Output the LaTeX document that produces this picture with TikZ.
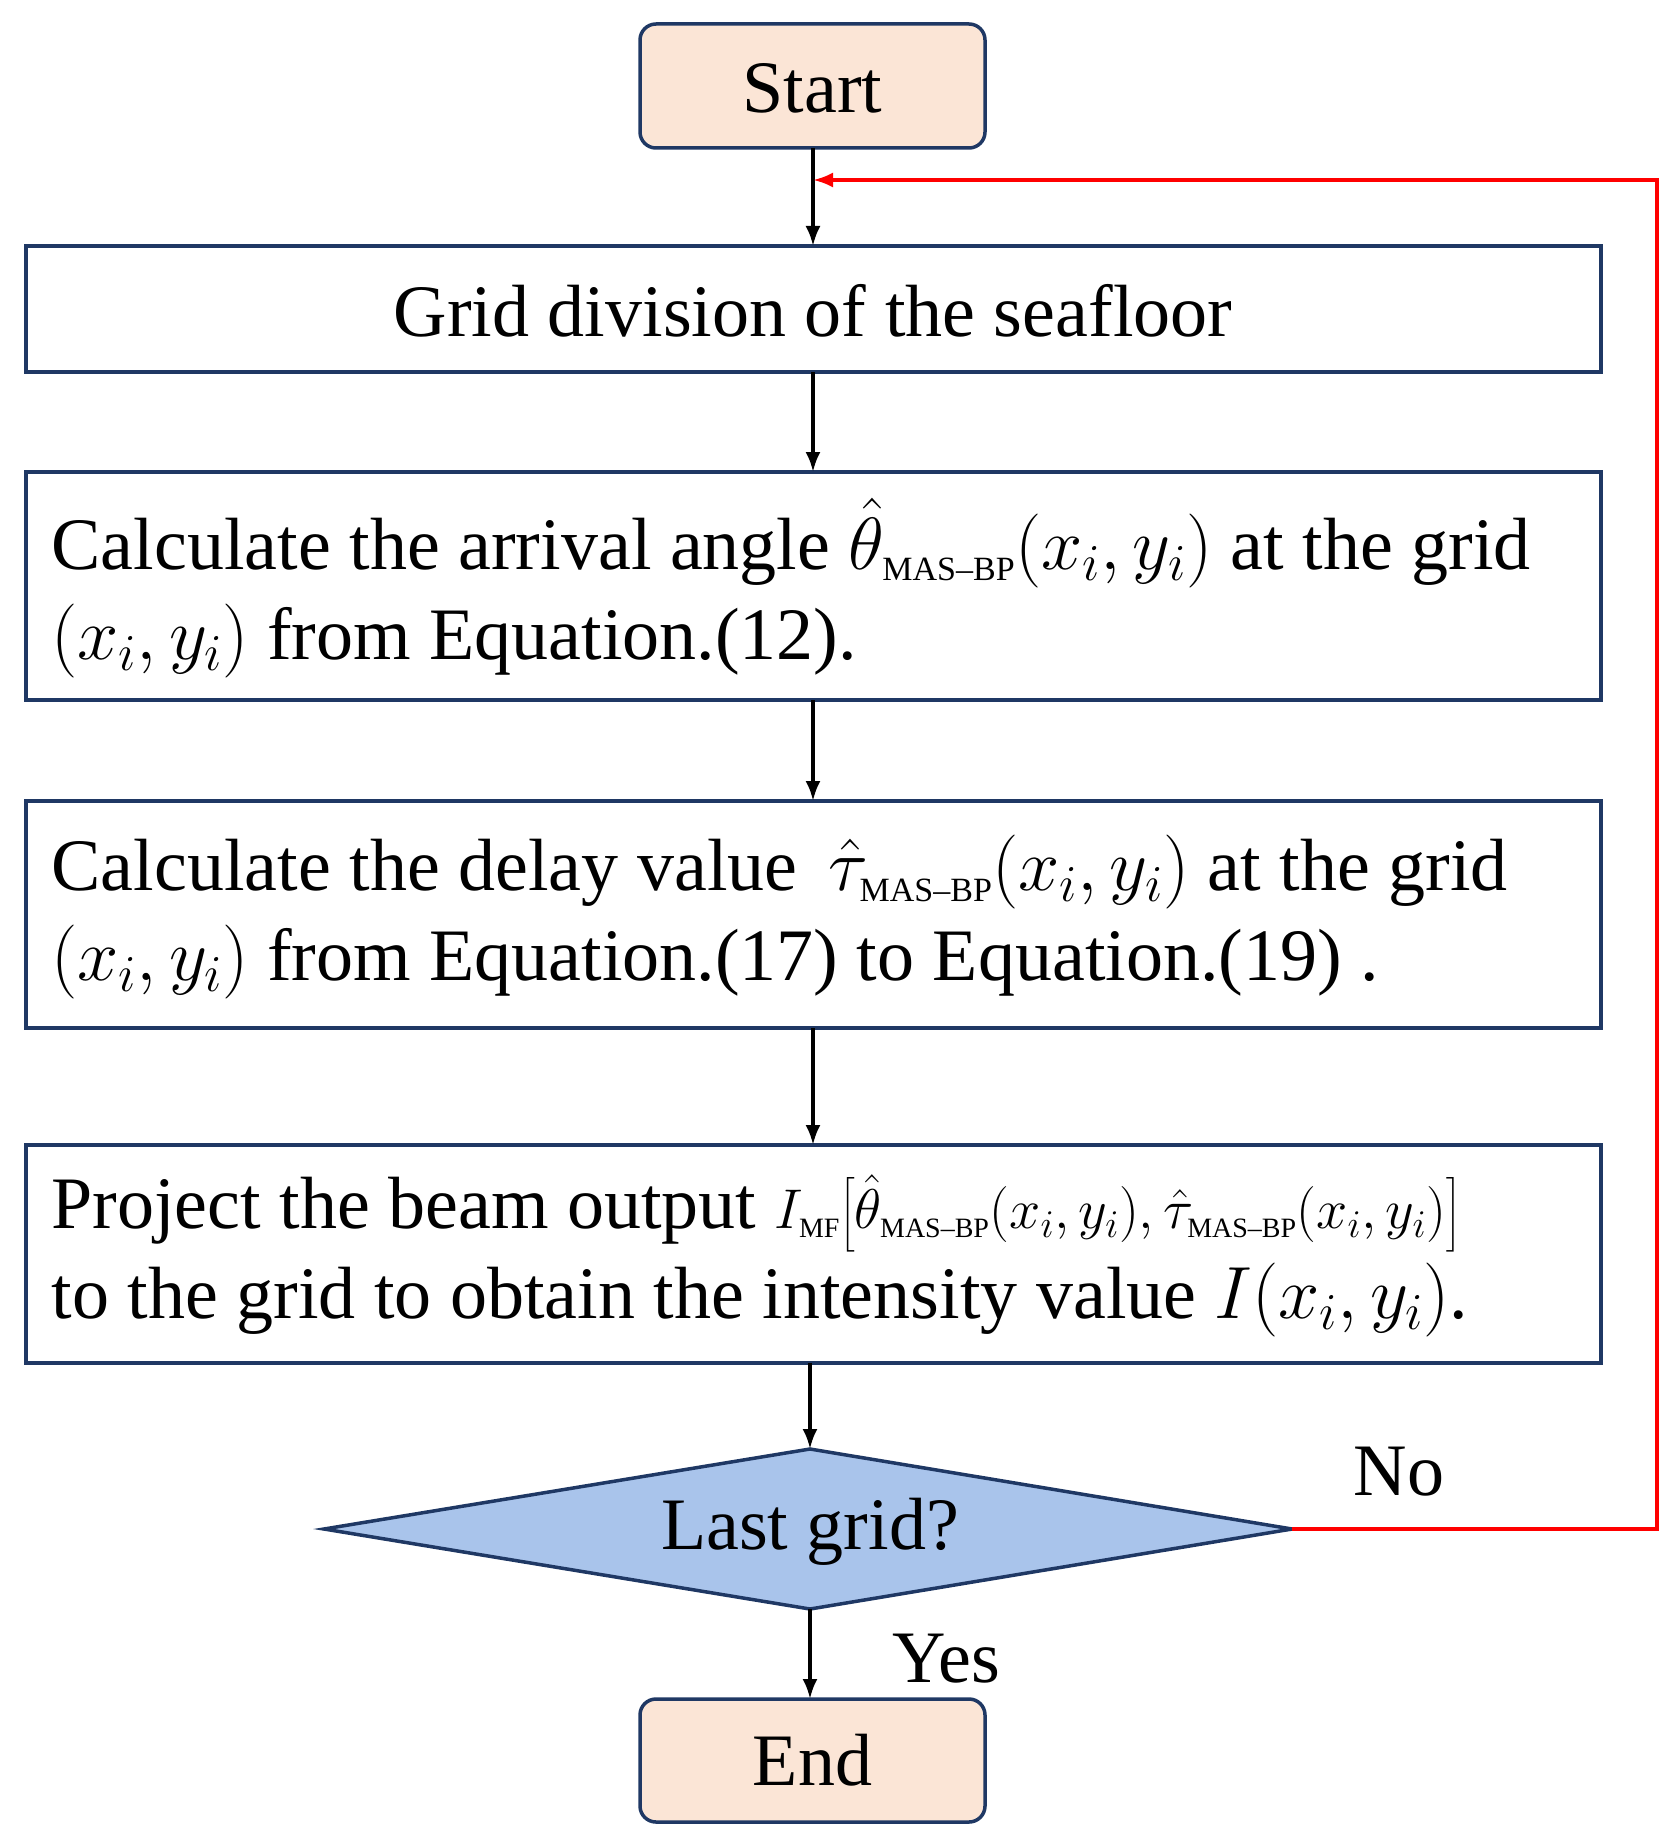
\documentclass[tikz,border=0pt]{standalone}
\usepackage{fix-cm}
\usepackage{amsmath}
\usepackage{fontspec}
\setmainfont{Liberation Serif}
\usetikzlibrary{arrows.meta}
\definecolor{bord}{HTML}{1F3864}
\definecolor{peach}{HTML}{FBE5D6}
\definecolor{dblue}{HTML}{A9C4EB}
\tikzset{
  term/.style={draw=bord,line width=3.5pt,fill=peach,rounded corners=16pt},
  proc/.style={draw=bord,line width=3.5pt,fill=white},
  arr/.style={line width=3.5pt,-{Latex[length=20pt,width=15pt]}},
  lab/.style={font=\fontsize{74}{90}\selectfont},
}
\newcommand{\sm}[1]{\text{\fontsize{34}{34}\selectfont #1}}
\newcommand{\smm}[1]{\text{\fontsize{28}{28}\selectfont #1}}
\begin{document}
\begin{tikzpicture}[x=1pt,y=-1pt]
\useasboundingbox (0,0) rectangle (1679,1843);
\draw[term] (640,24) rectangle (985,148);
\node[lab] (start) at (812.5,88) {Start};
\coordinate (startb) at (813,148);
\draw[proc] (26,246) rectangle (1601,372);
\node[lab] (grid) at (813,311) {Grid division of the seafloor};
\draw[proc] (26,472) rectangle (1601,700);
\node[lab,anchor=west,align=left] (calc1) at (48,588) {Calculate the arrival angle $\hat{\theta}_{\sm{MAS--BP}}(x_i,y_i)$ at the grid\\$(x_i,y_i)$ from Equation.(12).};
\draw[proc] (26,801) rectangle (1601,1028);
\node[lab,anchor=west,align=left] (calc2) at (48,917) {Calculate the delay value \,$\hat{\tau}_{\sm{MAS--BP}}(x_i,y_i)$ at the grid\\$(x_i,y_i)$ from Equation.(17) to Equation.(19) .};
\draw[proc] (26,1145) rectangle (1601,1363);
\node[lab,anchor=west,align=left] (proj) at (48,1256) {Project the beam output {\fontsize{56}{56}\selectfont$I_{\smm{MF}}\bigl[\hat{\theta}_{\smm{MAS--BP}}(x_i,y_i),\hat{\tau}_{\smm{MAS--BP}}(x_i,y_i)\bigr]$}\\to the grid to obtain the intensity value $I(x_i,y_i)$.};
\draw[line width=3.5pt,draw=bord,fill=dblue] (324,1529) -- (810,1449) -- (1292,1529) -- (810,1609) -- cycle;
\node[lab] (last) at (810,1532) {Last grid?};
\coordinate (dtop) at (810,1449);
\coordinate (dbot) at (810,1609);
\coordinate (dright) at (1292,1529);
\draw[term] (640,1699) rectangle (985,1822);
\node[lab] (endn) at (812.5,1760) {End};
\draw[arr] (startb) -- (813,246);
\draw[arr] (813,372) -- (813,472);
\draw[arr] (813,700) -- (813,801);
\draw[arr] (813,1028) -- (813,1145);
\draw[arr] (810,1363) -- (dtop);
\draw[arr] (dbot) -- (810,1699);
\draw[red,line width=3.5pt,-{Latex[length=20pt,width=15pt]}] (dright) -- (1657,1529) -- (1657,180) -- (813,180);
\node[lab] (no) at (1399,1472) {No};
\node[lab] (yes) at (946,1659) {Yes};
\end{tikzpicture}
\end{document}
